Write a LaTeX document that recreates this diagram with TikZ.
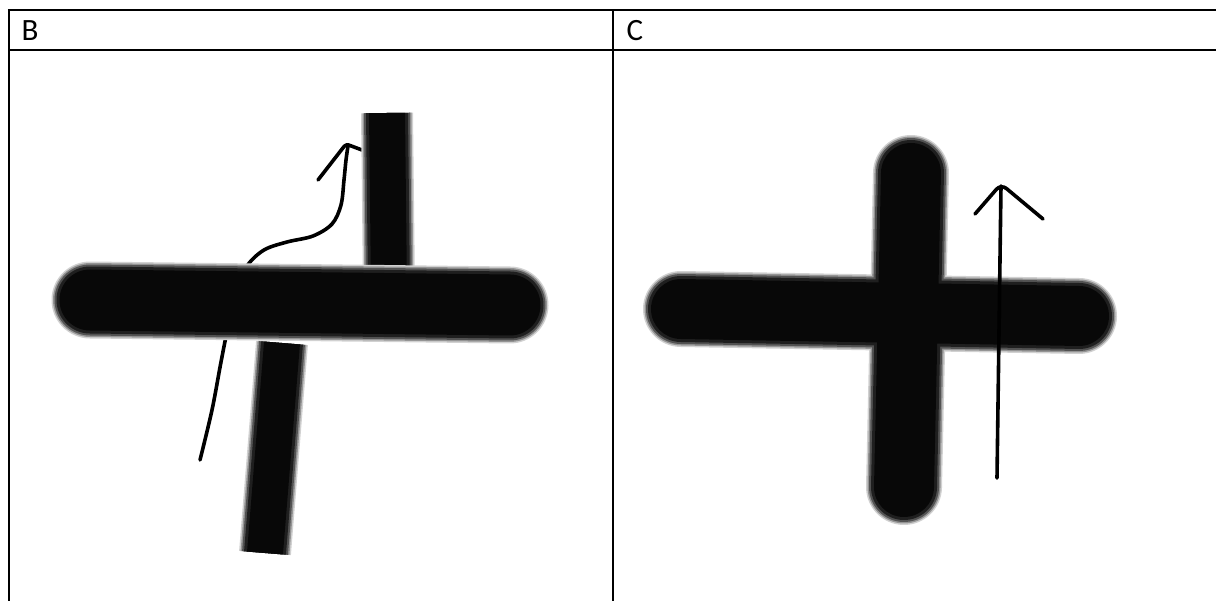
\documentclass[tikz,border=0pt]{standalone}
\usepackage{fontspec}
\setmainfont{Carlito}
% soft-edged stroke, layer by layer
\newcommand\softlayer[4]{\draw[line cap=#2, draw=black!#3, line width={#1*1pt}] #4;}
\newcommand\softstroke[3]{%
  \softlayer{#1}{#2}{18}{#3}%
  \softlayer{(#1-3)}{#2}{42}{#3}%
  \softlayer{(#1-6)}{#2}{68}{#3}%
  \softlayer{(#1-10)}{#2}{88}{#3}%
  \softlayer{(#1-16)}{#2}{97}{#3}}
\newcommand\softcross[5]{% width1 path1 width2 path2 cap
  \softlayer{#1}{#5}{18}{#2}\softlayer{#3}{#5}{18}{#4}%
  \softlayer{(#1-3)}{#5}{42}{#2}\softlayer{(#3-3)}{#5}{42}{#4}%
  \softlayer{(#1-6)}{#5}{68}{#2}\softlayer{(#3-6)}{#5}{68}{#4}%
  \softlayer{(#1-10)}{#5}{88}{#2}\softlayer{(#3-10)}{#5}{88}{#4}%
  \softlayer{(#1-16)}{#5}{97}{#2}\softlayer{(#3-16)}{#5}{97}{#4}}
\tikzset{
  rule/.style={line width=2.4pt, black},
  label/.style={font=\fontsize{31}{36}\selectfont, inner sep=0pt, anchor=base west},
  thread/.style={line width=3.6pt, black, line cap=round, line join=round}
}
\begin{document}
\begin{tikzpicture}[x=1pt,y=-1pt]
\useasboundingbox (0,0) rectangle (1216,601);
% table
\coordinate (tl) at (9,10);
\coordinate (tr) at (1216,10);
\coordinate (hl) at (9,50);
\coordinate (hr) at (1216,50);
\coordinate (bl) at (9,601);
\coordinate (mt) at (613,10);
\coordinate (mb) at (613,601);
\draw[rule] ([xshift=-1.2pt]tl) -- (tr);
\draw[rule] (hl) -- (hr);
\draw[rule] (tl) -- (bl);
\draw[rule] (mt) -- (mb);
\node[label] (lb) at (21.5,41) {B};
\node[label] (lc) at (626.5,41) {C};
% panel B
\draw[thread] plot[smooth, tension=0.55] coordinates {(200,460) (212,410) (221,362) (229,322) (237,290) (247,266) (264,250) (287,242) (313,236) (332,224) (341,205) (344,180) (346,160) (348,146)};
\draw[thread, rounded corners=3pt] (318,180) -- (346,144) -- (362,150);
\softstroke{52}{butt}{(387,113) -- (389,290)}
\softstroke{77}{round}{(90,300) -- (510,305)}
\softstroke{52}{butt}{(282,343) -- (265,553)}
% panel C
\softcross{76}{(681,309) -- (1079,316)}{76}{(911,173) -- (904,487)}{round}
\draw[thread] (997,478) -- (1001,186);
\draw[thread, rounded corners=7pt] (975,214) -- (1001,184) -- (1043,219);
\end{tikzpicture}
\end{document}
